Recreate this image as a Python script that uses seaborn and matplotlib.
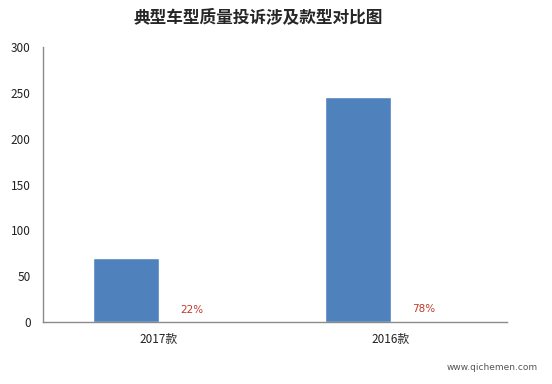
import pandas as pd
import matplotlib
matplotlib.use("Agg")
import matplotlib.pyplot as plt
import seaborn as sns

# data
categories = ["2017款", "2016款"]
complaints = [70, 246]
shares = [0.22, 0.78]
share_labels = ["22%", "78%"]

df = pd.DataFrame({
    "款型": categories * 2,
    "series": ["投诉量"] * 2 + ["占比"] * 2,
    "value": complaints + shares,
})

sns.set_style("white")
plt.rcParams["font.family"] = ["Noto Sans CJK SC", "DejaVu Sans"]

fig = plt.figure(figsize=(5.52, 3.84), dpi=100)
ax = fig.add_axes([0.078, 0.1615, 0.84, 0.716])

sns.barplot(data=df, x="款型", y="value", hue="series", order=categories,
            palette=["#4F81BD", "#4F81BD"], saturation=1, width=0.57, gap=0,
            legend=False, ax=ax, errorbar=None)

# percentage labels sit on the (almost flat) second series
ax.bar_label(ax.containers[1], labels=share_labels, padding=5,
             color="#C0392B", fontsize=7.5, family="DejaVu Sans")

ax.set_ylim(0, 300)
ax.set_yticks([0, 50, 100, 150, 200, 250, 300])
ax.set_xlim(-0.5, 1.5)
ax.set_xlabel("")
ax.set_ylabel("")
ax.tick_params(axis="both", length=0, labelsize=8.5, colors="#222222")
ax.tick_params(axis="y", pad=9)
ax.tick_params(axis="x", pad=8)
for s in ["top", "right"]:
    ax.spines[s].set_visible(False)
for s in ["left", "bottom"]:
    ax.spines[s].set_color("#8a8a8a")
    ax.spines[s].set_linewidth(1)

fig.suptitle("典型车型质量投诉涉及款型对比图", x=0.467, y=0.975,
             fontsize=12, fontweight="bold")
fig.text(0.975, 0.03, "www.qichemen.com", ha="right", va="bottom",
         fontsize=6.5, color="#555555", family="DejaVu Sans")

fig.savefig("out.png", dpi=100)
